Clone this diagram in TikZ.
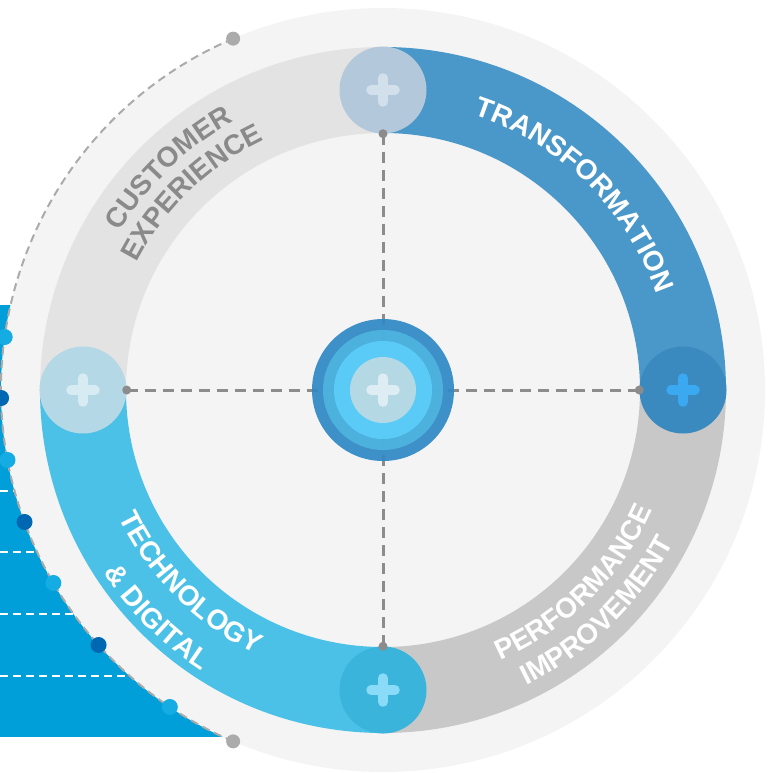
\documentclass[tikz,border=0pt]{standalone}
\usepackage{fontspec}
\setsansfont{Liberation Sans}
\usepackage{tikz}
\definecolor{panel}{HTML}{009FDA}
\definecolor{dotlight}{HTML}{14ACE2}
\definecolor{dotdark}{HTML}{0068B3}
\definecolor{arcgray}{HTML}{ABABAB}
\definecolor{disk}{HTML}{F4F4F4}
\definecolor{trblue}{HTML}{4A97C9}
\definecolor{cxgray}{HTML}{E3E3E3}
\definecolor{tdblue}{HTML}{4BC1E7}
\definecolor{pigray}{HTML}{C8C8C8}
\definecolor{hubN}{HTML}{B3C9DB}
\definecolor{plusN}{HTML}{D2E0EB}
\definecolor{hubE}{HTML}{3A8ABF}
\definecolor{plusE}{HTML}{3AA9F2}
\definecolor{hubS}{HTML}{3AB4DA}
\definecolor{plusS}{HTML}{8ADBF7}
\definecolor{hubW}{HTML}{B4D8E5}
\definecolor{plusW}{HTML}{D7EBF2}
\definecolor{coreA}{HTML}{2E88C5}
\definecolor{coreB}{HTML}{4DB3DE}
\definecolor{coreC}{HTML}{5BCDF9}
\definecolor{coreD}{HTML}{B8D9E5}
\definecolor{plusC}{HTML}{DDEDF3}
\definecolor{linkgray}{HTML}{8C8C8C}
\definecolor{cxtext}{HTML}{8A8A8A}
\newcommand\lbl{\sffamily\bfseries\fontsize{28}{28}\selectfont}
% #1 radius, #2 centre angle, #3 direction (-1 tops out, 1 tops in),
% #4 colour, #5 word width (1/1000 em), #6 letter/width list
\newcommand\arcword[6]{%
  \foreach \ch/\w [evaluate=\w as \run using \prev+\w, remember=\run as \prev (initially 0)] in {#6} {%
    \pgfmathsetmacro\chang{#2+#3*(\prev+0.5*\w-0.5*#5)*0.028/#1*180/pi}%
    \node[text=#4, font=\lbl, anchor=base, inner sep=0pt, rotate=\chang+#3*90]
      at (\chang:#1) {\ch};
  }%
}

\begin{document}
\begin{tikzpicture}[
  x=1pt, y=1pt,
  hub/.style={
    circle, inner sep=0pt, minimum size=87pt
  },
  plus/.style={line width=9.5pt, line cap=round},
  link/.style={draw=linkgray, line width=3pt, dash pattern=on 11pt off 7pt}
]
  \useasboundingbox (-383,-382) rectangle (392,390);
  % blue panel behind the disk
  \fill[panel] (-383,85) rectangle (-150,-347);
  \foreach \y in {-101,-162,-224,-286} {
    \draw[white, line width=2pt, dash pattern=on 8pt off 5pt] (-383,\y)--(-150,\y);
  }
  \fill[disk] (0,0) circle[radius=382];
  \draw[arcgray, line width=2pt, dash pattern=on 8pt off 5pt]
    (113.1:382) arc[start angle=113.1, end angle=246.9, radius=382];
  \foreach \y/\c in {53/dotlight,-8/dotdark,-70/dotlight,-132/dotdark,-193/dotlight,-255/dotdark,-317/dotlight} {
    \fill[\c] ({180-asin(\y/382)}:382) circle[radius=8];
  }
  \fill[arcgray] (113.1:382) circle[radius=7] (246.9:382) circle[radius=7];
  % ring
  \foreach \a/\b/\c in {0/90/trblue,90/180/cxgray,180/270/tdblue,270/360/pigray} {
    \fill[\c] (\a:343) arc[start angle=\a, end angle=\b, radius=343]
      -- (\b:257) arc[start angle=\b, end angle=\a, radius=257] -- cycle;
  }
  \arcword{290}{45.5}{-1}{white}{9499}{T/611,R/722,A/722,N/722,S/667,F/611,O/778,R/722,M/833,A/722,T/611,I/278,O/778,N/722}
  \arcword{307}{134}{-1}{cxtext}{5722}{C/722,U/722,S/667,T/611,O/778,M/833,E/667,R/722}
  \arcword{277}{134}{-1}{cxtext}{6446}{E/667,X/667,P/667,E/667,R/722,I/278,E/667,N/722,C/722,E/667}
  \arcword{295}{-45.3}{1}{white}{7833}{P/667,E/667,R/722,F/611,O/778,R/722,M/833,A/722,N/722,C/722,E/667}
  \arcword{328}{-45.9}{1}{white}{7445}{I/278,M/833,P/667,R/722,O/778,V/667,E/667,M/833,E/667,N/722,T/611}
  \arcword{293}{225}{1}{white}{7056}{T/611,E/667,C/722,H/722,N/722,O/778,L/611,O/778,G/778,Y/667}
  \arcword{334}{225.2}{1}{white}{5000}{\&/722,\ /278,D/722,I/278,G/778,I/278,T/611,A/722,L/611}
  % hubs and links
  \node[hub, fill=hubN] (n) at (90:300){};
  \node[hub, fill=hubE] (e) at (0:300){};
  \node[hub, fill=hubS] (s) at (-90:300){};
  \node[hub, fill=hubW] (w) at (180:300){};
  \coordinate (c) at (0,0);
  \foreach \h in {n,e,s,w} {
    \draw[link] (\h)--(c);
  }
  \foreach \h/\an in {n/south,e/west,s/north,w/east} {
    \fill[linkgray] (\h.\an) circle[radius=4.5];
  }
  \node[circle, inner sep=0pt, minimum size=142pt, fill=coreA, fill opacity=0.92] (core) at (c){};
  \fill[coreB, fill opacity=0.95] (core.center) circle[radius=60];
  \fill[coreC, fill opacity=0.95] (core.center) circle[radius=49];
  \fill[coreD, fill opacity=0.97] (core.center) circle[radius=33];
  \foreach \h/\c in {n/plusN,e/plusE,s/plusS,w/plusW,core/plusC} {
    \draw[plus, \c] ([xshift=-12pt]\h.center)--([xshift=12pt]\h.center)
      ([yshift=-12pt]\h.center)--([yshift=12pt]\h.center);
  }
\end{tikzpicture}
\end{document}
